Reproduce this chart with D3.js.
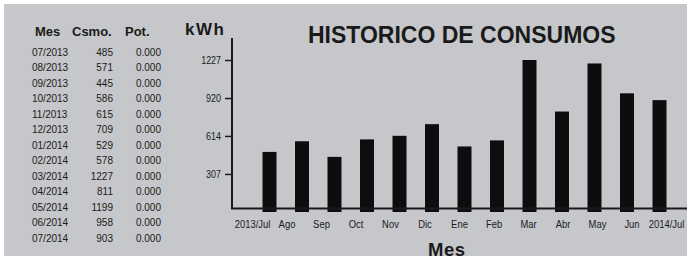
<!DOCTYPE html>
<html>
<head>
<meta charset="utf-8">
<script src="https://cdn.jsdelivr.net/npm/d3@7"></script>
<style>
  body { margin: 0; background: #fff; }
</style>
</head>
<body>
<div id="chart"></div>
<script>
// data
var months = ["07/2013", "08/2013", "09/2013", "10/2013", "11/2013", "12/2013", "01/2014",
              "02/2014", "03/2014", "04/2014", "05/2014", "06/2014", "07/2014"];
var consumo = [485, 571, 445, 586, 615, 709, 529, 578, 1227, 811, 1199, 958, 903];
var potencia = [0, 0, 0, 0, 0, 0, 0, 0, 0, 0, 0, 0, 0];
var monthLabels = ["2013/Jul", "Ago", "Sep", "Oct", "Nov", "Dic", "Ene", "Feb", "Mar",
                   "Abr", "May", "Jun", "2014/Jul"];
var yTicks = [307, 614, 920, 1227];

var W = 687, H = 261;
var ink = "#1a1a1a";
var sans = "'Liberation Sans', Arial, sans-serif";

var svg = d3.select("#chart").append("svg")
    .attr("width", W)
    .attr("height", H);

// scanned grey paper
svg.append("rect")
    .attr("x", 4).attr("y", 4)
    .attr("width", W - 4).attr("height", 252)
    .attr("fill", "#c6c7ca");

// ---- left table ----
var rowY = d3.scalePoint()
    .domain(months)
    .range([52, 238]);

var table = svg.append("g").attr("fill", ink);

var header = [["Mes", 35], ["Csmo.", 72], ["Pot.", 125]];
table.selectAll(".head")
    .data(header)
    .enter()
    .append("text")
    .attr("class", "head")
    .attr("x", function (d) { return d[1]; })
    .attr("y", 36)
    .style("font-family", sans).style("font-weight", "bold").style("font-size", "13px")
    .text(function (d) { return d[0]; });

var rows = table.selectAll(".row")
    .data(months)
    .enter()
    .append("g")
    .attr("class", "row")
    .attr("transform", function (d) { return "translate(0," + (rowY(d) + 3.5) + ")"; })
    .style("font-family", sans)
    .style("font-size", "10px");

rows.append("text")
    .attr("x", 32)
    .text(function (d) { return d; });
rows.append("text")
    .attr("x", 113)
    .attr("text-anchor", "end")
    .text(function (d, i) { return consumo[i]; });
rows.append("text")
    .attr("x", 161)
    .attr("text-anchor", "end")
    .text(function (d, i) { return potencia[i].toFixed(3); });

// ---- bar chart ----
var y = d3.scaleLinear()
    .domain([0, 1227])
    .range([212, 60]);

var x = d3.scaleBand()
    .domain(months)
    .range([253.25, 675.75])
    .paddingInner(0.57)
    .paddingOuter(0.285);

// labels under the axis sit on a slightly wider spacing than the bars
var xLab = d3.scalePoint()
    .domain(monthLabels)
    .range([252, 666]);

svg.selectAll(".bar")
    .data(consumo)
    .enter()
    .append("rect")
    .attr("class", "bar")
    .attr("x", function (d, i) { return x(months[i]); })
    .attr("y", function (d) { return y(d); })
    .attr("width", x.bandwidth())
    .attr("height", function (d) { return y(0) - y(d); })
    .attr("fill", "#0d0d0d");

// y axis
var yAxis = d3.axisLeft(y)
    .tickValues(yTicks)
    .tickFormat(d3.format("d"))
    .tickSize(7)
    .tickPadding(4);

var gy = svg.append("g")
    .attr("transform", "translate(232,0)")
    .call(yAxis);
gy.select(".domain").remove();
gy.selectAll(".tick line").attr("stroke", ink).attr("stroke-width", 1.5);
gy.selectAll(".tick text")
    .attr("fill", ink)
    .attr("transform", "translate(-11,0) scale(0.85,1) translate(11,0)")
    .style("font-family", sans)
    .style("font-size", "10.5px");

svg.append("line")
    .attr("x1", 232).attr("x2", 232)
    .attr("y1", 38).attr("y2", 209)
    .attr("stroke", ink).attr("stroke-width", 2);

// x axis
var xAxis = d3.axisBottom(xLab)
    .tickSize(0)
    .tickPadding(12);

var gx = svg.append("g")
    .attr("transform", "translate(0,208)")
    .call(xAxis);
gx.select(".domain").remove();
gx.selectAll(".tick text")
    .attr("fill", ink)
    .attr("transform", "scale(0.82,1)")
    .style("font-family", sans)
    .style("font-size", "11.5px");

svg.append("line")
    .attr("x1", 231).attr("x2", W)
    .attr("y1", 208.5).attr("y2", 208.5)
    .attr("stroke", ink).attr("stroke-width", 2);

// titles
svg.append("text")
    .attr("x", 185).attr("y", 35)
    .attr("fill", ink)
    .style("font-family", sans).style("font-weight", "bold").style("font-size", "17px")
    .style("letter-spacing", "1.5px")
    .text("kWh");

svg.append("text")
    .attr("x", 308).attr("y", 43)
    .attr("fill", ink)
    .style("font-family", sans).style("font-weight", "bold").style("font-size", "23px")
    .text("HISTORICO DE CONSUMOS");

svg.append("text")
    .attr("x", 428).attr("y", 256)
    .attr("fill", ink)
    .style("font-family", sans).style("font-weight", "bold").style("font-size", "18.5px")
    .style("letter-spacing", "0.5px")
    .text("Mes");
</script>
</body>
</html>
